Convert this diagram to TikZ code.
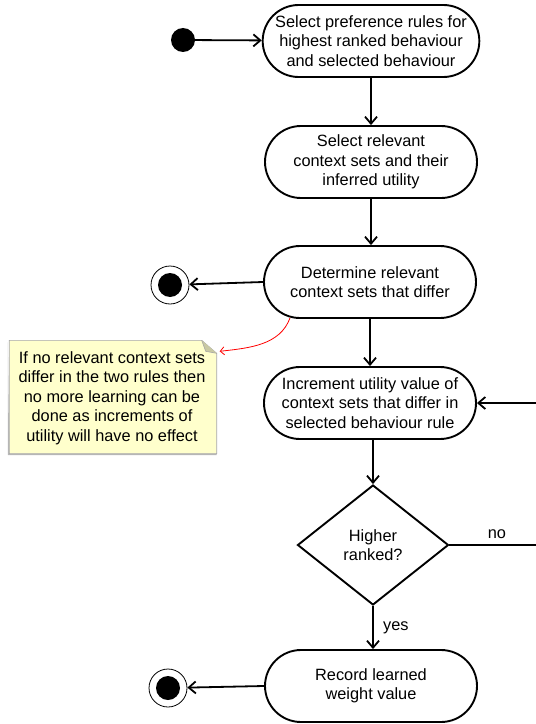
\documentclass[tikz,border=0pt]{standalone}
\usepackage{fontspec}
\setmainfont{Liberation Sans}
\usetikzlibrary{shapes.misc,shapes.geometric,arrows.meta,calc}
\definecolor{notefill}{HTML}{FFFFCC}
\definecolor{notefold}{HTML}{C9C9A3}
\begin{document}
\begin{tikzpicture}[x=1bp,y=-1bp,
  font=\fontsize{16.4}{19.5}\selectfont,
  activity/.style={rounded rectangle, draw, line width=1.9bp, minimum width=216bp,
    minimum height=72bp, align=center, inner sep=2bp},
  decision/.style={diamond, draw, line width=1.9bp, minimum width=151bp,
    minimum height=120bp, align=center, inner sep=0pt},
  flow/.style={line width=1.8bp, -{Straight Barb[length=7bp,width=12bp,line width=1.8bp]}},
  startdot/.style={circle, fill=black, minimum size=24bp, inner sep=0pt},
  endring/.style={circle, draw, line width=0.8bp, fill=white, minimum size=38bp, inner sep=0pt},
  enddot/.style={circle, fill=black, minimum size=24bp, inner sep=0pt},
  notebox/.style={minimum width=207bp, minimum height=113bp, align=center, inner sep=0pt}]
\useasboundingbox (0,0) rectangle (536,724);

% activities
\node[activity] (a1) at (371,41) {Select preference rules for\\highest ranked behaviour\\and selected behaviour};
\node[activity] (a2) at (371,162) {Select relevant\\context sets and their\\inferred utility};
\node[activity] (a3) at (370,282) {Determine relevant\\context sets that differ};
\node[activity] (a4) at (370,403) {Increment utility value of\\context sets that differ in\\selected behaviour rule};
\node[decision] (d) at (373,545) {Higher\\ranked?};
\node[activity] (a5) at (371,686) {Record learned\\weight value};

% initial and final nodes
\node[startdot] (s) at (183,40) {};
\node[endring] (e1) at (170,285) {};
\node[enddot] at (e1) {};
\node[endring] (e2) at (168,688) {};
\node[enddot] at (e2) {};

% note
\node[notebox] (n) at (113,397) {};
\fill[gray!55] ($(n.north west)+(-1.5,2)$) -- ($(n.south west)+(-1.5,1.5)$) -- ($(n.south east)+(0,1.5)$) -- ($(n.south east)+(0,0)$) -- ($(n.south west)+(0,0)$) -- cycle;
\draw[gray!70, line width=0.6bp, fill=notefill] (n.north west) -- ($(n.north east)+(-15,0)$) -- ($(n.north east)+(0,13)$) -- (n.south east) -- (n.south west) -- cycle;
\fill[notefold] ($(n.north east)+(-15,0)$) -- ($(n.north east)+(0,13)$) -- ($(n.north east)+(-11,11)$) -- cycle;
\draw[gray!70, line width=0.6bp] ($(n.north east)+(-15,0)$) -- ($(n.north east)+(-11,11)$) -- ($(n.north east)+(0,13)$);
\node[align=center] (nt) at (112,398) {If no relevant context sets\\differ in the two rules then\\no more learning can be\\done as increments of\\utility will have no effect};

% flows
\draw[flow] (s) -- (a1);
\draw[flow] (a1) -- (a2.north -| a1.south);
\draw[flow] (a2) -- (a3.north -| a2.south);
\draw[flow] (a3.west) -- (e1);
\draw[flow] (a3.south) -- (a4.north);
\draw[flow] (a4.south -| d.north) -- (d.north);
\draw[flow] (d.south) -- node[right=6bp] {yes} (a5.north -| d.south);
\draw[flow] (a5.west) -- (e2);
\coordinate (loopr) at (560,545);
\draw[flow] (d.east) -- node[above=2bp, pos=0.43] {no} (loopr) |- (a4.east);

% annotation link
\draw[red, line width=0.8bp, -{Straight Barb[length=4bp,width=8bp,line width=0.8bp]}]
  (290,318) .. controls (280,345) and (250,348) .. ($(n.north east)+(3,11)$);
\end{tikzpicture}
\end{document}
